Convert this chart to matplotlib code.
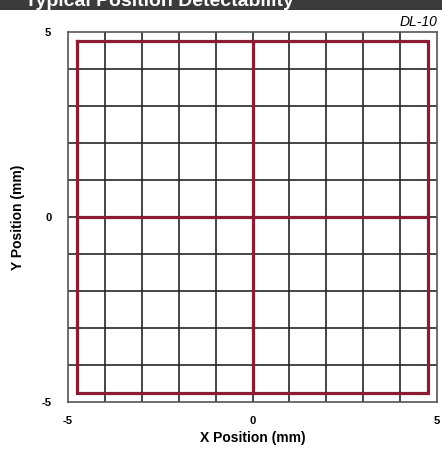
import numpy as np
import matplotlib.pyplot as plt
from matplotlib.patches import Rectangle

plt.rcParams['font.family'] = ['Liberation Sans', 'DejaVu Sans']

# detector area and scan grid (mm)
lim = 5.0
grid_pos = np.arange(-5, 6, 1)
# detected square path and center cross (mm)
square_x = [-4.75, 4.75, 4.75, -4.75, -4.75]
square_y = [4.75, 4.75, -4.75, -4.75, 4.75]
cross_x = [0, 0]
cross_y = [-4.75, 4.75]
tick_vals = [-5, 0, 5]
tick_labels = ['-5', '0', '5']

red = '#8c1c34'

fig = plt.figure(figsize=(4.42, 4.49), dpi=100)
fig.patch.set_facecolor('white')

# header bar
fig.patches.append(Rectangle((0, 1 - 10/449), 1, 10/449, transform=fig.transFigure,
                             facecolor='#3b3b3b', edgecolor='none', zorder=0))
fig.text(25/442, 1 - 6/449, 'Typical Position Detectability', color='white',
         fontsize=14, fontweight='bold', ha='left', va='baseline')

ax = fig.add_axes([68/442, 47/449, 369/442, 370/449])
ax.set_xlim(-lim, lim)
ax.set_ylim(-lim, lim)

for g in grid_pos[1:-1]:
    ax.axvline(g, color='#262626', lw=1.2, zorder=1)
    ax.axhline(g, color='#262626', lw=1.2, zorder=1)

ax.plot(square_x, square_y, color=red, lw=2.3, solid_joinstyle='miter', zorder=3)
ax.plot(cross_x, cross_y, color=red, lw=2.3, zorder=3)
ax.plot(cross_y, cross_x, color=red, lw=2.3, zorder=3)

for s in ax.spines.values():
    s.set_color('#555555')
    s.set_linewidth(1.2)

ax.set_xticks(tick_vals)
ax.set_xticklabels(tick_labels)
ax.set_yticks(tick_vals)
ax.set_yticklabels(tick_labels)
ax.tick_params(length=0, labelsize=8, pad=10)
for lab in ax.get_xticklabels() + ax.get_yticklabels():
    lab.set_fontweight('bold')
ax.tick_params(axis='y', pad=12)

ax.set_xlabel('X Position (mm)', fontsize=10, fontweight='bold', labelpad=4)
fig.text(18/442, 1 - 217/449, 'Y Position (mm)', fontsize=10, fontweight='bold',
         rotation=90, ha='center', va='center')

fig.text(437/442, 1 - 22/449, 'DL-10', fontsize=10, fontstyle='italic',
         ha='right', va='center')

fig.savefig('out.png', dpi=100)
